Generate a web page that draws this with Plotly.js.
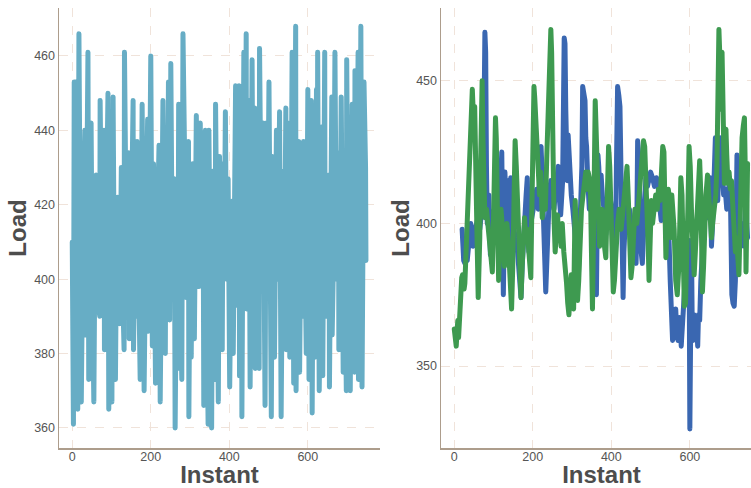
<!DOCTYPE html>
<html>
<head>
<meta charset="utf-8">
<script src="https://cdn.plot.ly/plotly-3.0.1.min.js"></script>
<style>
  html, body { margin: 0; padding: 0; overflow: hidden; background: #fff; }
  #chart { width: 762px; height: 488px; }
  .scatterlayer path.js-line { stroke-linejoin: round !important; stroke-linecap: round !important; }
</style>
</head>
<body>
<div id="chart"></div>
<script>
// ---- data ----
const leftPoints = [[0,410],[3,361],[5,453],[8,400],[10,453],[14,365],[17,466],[20,400],[23,367],[27,410],[32,440],[34,385],[37,415],[40,461],[42,373],[45,405],[48,442],[51,398],[55,367],[58,412],[61,428],[65,395],[70,390],[71,448],[76,400],[81,440],[82,381],[86,410],[91,450],[93,365],[97,405],[101,367],[104,449],[107,400],[110,373],[113,412],[116,422],[121,388],[125,430],[128,398],[132,381],[133,461],[138,405],[144,434],[145,384],[150,410],[155,448],[156,381],[160,412],[164,390],[165,437],[169,402],[173,373],[178,447],[183,370],[187,408],[192,443],[194,386],[197,415],[200,460],[204,382],[207,431],[210,400],[212,372],[216,410],[221,436],[224,367],[228,405],[231,448],[237,380],[239,432],[242,398],[245,453],[248,389],[251,458],[255,400],[260,427],[262,360],[266,410],[269,376],[271,447],[275,400],[279,373],[282,466],[287,405],[291,395],[296,437],[297,363],[300,410],[303,379],[307,431],[311,384],[316,444],[319,405],[323,398],[326,442],[330,400],[333,436],[335,366],[339,440],[342,400],[346,361],[348,440],[352,405],[355,360],[358,429],[361,400],[364,373],[365,447],[368,405],[372,367],[375,433],[378,402],[382,381],[384,431],[387,405],[390,445],[393,400],[397,427],[401,371],[405,410],[409,421],[410,380],[413,405],[416,452],[420,393],[425,452],[426,374],[431,448],[432,363],[437,461],[440,400],[443,466],[444,392],[450,448],[453,371],[458,459],[461,400],[465,446],[466,376],[470,445],[473,400],[476,376],[477,462],[482,405],[486,442],[491,366],[494,442],[497,400],[501,453],[504,398],[507,363],[510,433],[515,379],[520,440],[524,400],[528,445],[532,363],[537,429],[541,405],[544,446],[545,381],[550,442],[554,379],[557,410],[560,461],[564,372],[569,468],[570,370],[574,405],[577,437],[579,375],[584,434],[588,390],[589,437],[593,405],[596,380],[600,451],[603,373],[606,410],[609,448],[611,364],[615,444],[618,379],[622,451],[624,400],[625,461],[629,370],[633,419],[637,441],[638,374],[643,461],[644,390],[649,410],[654,428],[655,371],[658,405],[661,449],[662,385],[666,410],[669,461],[673,400],[678,434],[679,381],[682,405],[685,449],[690,375],[692,432],[695,400],[698,370],[699,459],[703,400],[707,430],[708,370],[713,447],[716,400],[719,375],[720,456],[724,405],[728,461],[729,373],[732,405],[735,468],[738,371],[741,410],[743,453],[747,430],[748,405]];

const bluePoints = [[20,398],[22,390],[24,387],[27,386],[30,388],[33,387],[36,393],[39,399],[42,400],[45,398],[48,392],[51,396],[55,400],[60,402],[65,398],[70,404],[74,410],[76,440],[78,467],[80,460],[82,420],[84,400],[86,405],[88,410],[90,395],[92,389],[95,395],[98,400],[102,405],[106,398],[110,405],[114,400],[118,410],[121,425],[123,400],[125,375],[127,395],[129,418],[131,410],[134,400],[137,415],[140,398],[142,390],[144,416],[147,405],[150,400],[155,395],[160,392],[164,385],[167,378],[170,374],[173,385],[176,395],[180,405],[183,410],[186,416],[188,400],[190,390],[195,400],[200,405],[205,410],[210,412],[214,405],[218,415],[221,427],[223,420],[226,410],[229,398],[231,385],[233,376],[236,390],[239,402],[242,410],[246,415],[250,408],[254,405],[258,412],[262,418],[265,420],[268,408],[271,403],[274,410],[276,415],[278,440],[280,465],[282,463],[284,440],[286,420],[288,415],[290,431],[292,425],[295,418],[298,410],[302,405],[306,400],[310,395],[313,388],[316,381],[319,392],[322,398],[325,420],[327,448],[330,446],[333,443],[335,430],[337,427],[340,415],[344,405],[348,410],[352,415],[355,405],[358,395],[360,385],[362,375],[364,400],[366,424],[368,420],[371,410],[374,417],[378,408],[382,405],[386,396],[390,402],[394,410],[398,408],[402,404],[406,400],[409,396],[411,394],[413,420],[416,448],[419,445],[422,441],[425,415],[428,396],[430,374],[432,390],[435,405],[438,408],[442,402],[446,405],[450,401],[454,400],[457,396],[460,388],[463,386],[465,400],[467,429],[469,425],[471,420],[473,405],[476,390],[479,386],[482,400],[485,410],[488,416],[492,413],[496,415],[500,418],[505,416],[510,413],[515,416],[520,412],[524,405],[527,401],[531,405],[535,410],[539,405],[543,400],[547,394],[550,380],[553,368],[556,359],[559,362],[562,367],[564,370],[567,361],[570,359],[573,367],[576,364],[578,357],[580,363],[582,367],[586,375],[590,385],[594,390],[598,394],[600,328],[602,380],[604,394],[606,365],[608,359],[611,368],[614,362],[617,366],[620,357],[622,368],[625,366],[628,380],[632,395],[636,400],[640,405],[644,402],[647,408],[649,405],[652,416],[655,392],[658,400],[662,415],[665,430],[667,428],[669,410],[671,408],[674,420],[677,430],[680,425],[683,415],[686,410],[690,412],[694,405],[698,410],[701,416],[703,413],[705,388],[707,375],[710,372],[713,371],[716,380],[718,410],[720,424],[722,420],[725,405],[728,398],[731,392],[734,395],[737,400],[740,392],[743,421],[745,400],[747,395]];

const greenPoints = [[0,363],[3,360],[5,357],[7,362],[9,366],[11,360],[13,368],[15,372],[17,378],[19,381],[21,382],[23,378],[25,377],[27,379],[44,447],[46,447],[48,440],[50,437],[52,441],[54,410],[56,400],[58,395],[61,374],[63,380],[65,395],[67,420],[69,445],[71,450],[73,430],[75,410],[78,402],[82,405],[86,398],[90,392],[94,385],[97,383],[99,395],[101,410],[103,425],[105,437],[107,430],[109,420],[111,395],[113,380],[116,398],[119,405],[122,400],[125,392],[128,385],[131,393],[134,400],[137,395],[140,385],[143,375],[146,370],[149,385],[152,410],[155,429],[158,420],[161,405],[164,390],[167,378],[170,374],[173,385],[176,398],[179,402],[182,395],[186,398],[190,390],[193,382],[195,381],[197,400],[199,430],[201,447],[203,448],[205,444],[207,438],[209,431],[211,425],[214,415],[217,410],[220,418],[224,402],[228,410],[232,405],[236,425],[240,445],[243,455],[246,468],[248,460],[250,430],[252,410],[254,402],[257,390],[260,398],[263,403],[266,395],[269,398],[272,392],[275,400],[279,390],[283,385],[286,379],[289,372],[292,368],[295,375],[298,382],[301,372],[304,370],[306,390],[308,408],[310,400],[312,385],[314,373],[317,380],[320,395],[324,405],[328,410],[332,417],[335,418],[338,412],[341,418],[344,416],[347,410],[350,385],[352,370],[355,400],[357,430],[359,443],[361,434],[364,420],[367,405],[370,392],[373,398],[376,405],[380,395],[383,390],[386,388],[389,405],[391,420],[393,427],[396,420],[399,405],[402,390],[405,376],[408,380],[412,395],[416,400],[420,405],[425,398],[430,405],[434,412],[437,418],[440,420],[443,410],[446,395],[450,381],[453,385],[456,395],[460,405],[465,400],[470,410],[475,418],[479,425],[482,429],[485,427],[488,418],[491,405],[494,392],[496,380],[499,390],[502,408],[505,400],[509,405],[513,410],[517,405],[520,412],[524,408],[528,420],[531,427],[534,425],[537,400],[539,388],[542,400],[545,412],[548,409],[551,395],[554,410],[557,405],[560,398],[564,380],[568,375],[572,385],[575,405],[577,416],[580,410],[583,375],[586,371],[589,372],[592,385],[595,405],[598,427],[601,420],[604,405],[607,395],[611,382],[614,390],[618,400],[622,410],[625,422],[628,410],[630,390],[632,376],[635,385],[638,400],[641,410],[645,417],[648,410],[651,400],[655,395],[658,400],[662,404],[666,410],[669,420],[672,440],[674,468],[676,460],[678,440],[680,455],[682,460],[684,445],[686,420],[688,414],[690,425],[692,433],[694,424],[697,414],[700,418],[703,412],[706,415],[709,405],[713,397],[716,390],[719,395],[722,383],[725,382],[728,400],[730,420],[733,430],[736,434],[739,437],[741,420],[743,383],[745,400],[747,421]];

const xTicks = [0, 200, 400, 600];
const yTicksLeft = [360, 380, 400, 420, 440, 460];
const yTicksRight = [350, 400, 450];
const xTitle = 'Instant';
const yTitle = 'Load';

// ---- styling ----
const FONT = '"Liberation Sans", Arial, sans-serif';
const AXISCOL = '#ad9d8c';
const GRIDCOL = '#f0e3da';

function xs(p) { return p.map(d => d[0]); }
function ys(p) { return p.map(d => d[1]); }

const traces = [
  { x: xs(leftPoints), y: ys(leftPoints), type: 'scatter', mode: 'lines',
    line: { color: '#67adc5', width: 5 }, xaxis: 'x', yaxis: 'y', hoverinfo: 'skip' },
  { x: xs(bluePoints), y: ys(bluePoints), type: 'scatter', mode: 'lines',
    line: { color: '#3a67b1', width: 5 }, xaxis: 'x2', yaxis: 'y2', hoverinfo: 'skip' },
  { x: xs(greenPoints), y: ys(greenPoints), type: 'scatter', mode: 'lines',
    line: { color: '#3e9a50', width: 5 }, xaxis: 'x2', yaxis: 'y2', hoverinfo: 'skip' }
];

function xAxis(domain, anchor) {
  return {
    domain: domain, anchor: anchor, range: [-33.75, 783.75], tickvals: xTicks,
    showgrid: true, gridcolor: GRIDCOL, griddash: 'dash', gridwidth: 1,
    zeroline: false, showline: true, linecolor: AXISCOL, linewidth: 1.5,
    ticks: '', ticklabelstandoff: -4,
    tickfont: { family: FONT, size: 12.5, color: '#555555' },
    title: { text: xTitle, standoff: 11, font: { family: FONT, size: 24, color: '#4d4d4d', weight: 'bold' } },
    automargin: false
  };
}
function yAxis(range, ticks, anchor) {
  return {
    anchor: anchor, range: range, tickvals: ticks,
    showgrid: true, gridcolor: GRIDCOL, griddash: 'dash', gridwidth: 1,
    zeroline: false, showline: true, linecolor: AXISCOL, linewidth: 1.5,
    ticks: '', ticklabelstandoff: 0,
    tickfont: { family: FONT, size: 12.5, color: '#555555' },
    title: { text: yTitle, standoff: 0, font: { family: FONT, size: 24, color: '#4d4d4d', weight: 'bold' } },
    automargin: false
  };
}

const layout = {
  width: 762, height: 488,
  margin: { l: 59, r: 0, t: 8, b: 40 },
  paper_bgcolor: '#ffffff', plot_bgcolor: '#ffffff',
  showlegend: false,
  xaxis: xAxis([0, 0.4566], 'y'),
  yaxis: yAxis([354.6, 472.9], yTicksLeft, 'x'),
  xaxis2: xAxis([0.5434, 1], 'y2'),
  yaxis2: yAxis([321.3, 475.5], yTicksRight, 'x2')
};

Plotly.newPlot('chart', traces, layout, { staticPlot: true, displayModeBar: false });
</script>
</body>
</html>
